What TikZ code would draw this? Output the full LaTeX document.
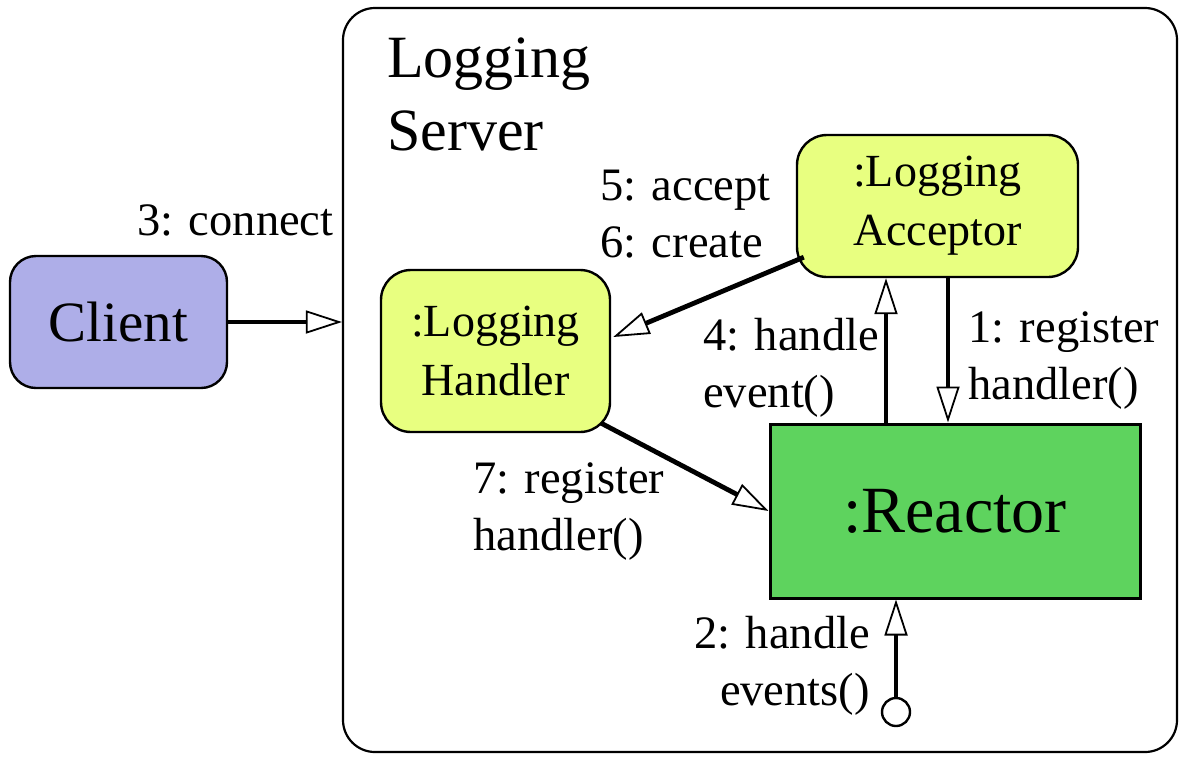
\documentclass[tikz,border=0pt]{standalone}
\usepackage{fontspec}
\setmainfont{Liberation Serif}
\usetikzlibrary{arrows.meta,calc}
\definecolor{clientfill}{HTML}{AEAEE8}
\definecolor{objfill}{HTML}{E8FF80}
\definecolor{reactorfill}{HTML}{5ED35E}
\tikzset{
  box/.style={draw=black, line width=2.4pt, inner sep=0pt, align=center,
    font=\fontsize{46}{59}\selectfont},
  msg/.style={line width=4.8pt,
    -{Triangle[length=36pt,width=23pt,fill=white,line width=1.8pt]}},
  lbl/.style={inner sep=0pt, font=\fontsize{46.5}{57}\selectfont},
}
\begin{document}
\begin{tikzpicture}[x=1pt,y=-1pt]
  \useasboundingbox (0,0) rectangle (1180,756);

  % enclosing server
  \node[draw=black, line width=2.2pt, rounded corners=32pt, minimum width=834pt,
        minimum height=744pt, inner sep=0pt] (server) at (760,380) {};
  % multi-line nodes sit on the baseline of their last line
  \node[lbl, font=\fontsize{60}{73}\selectfont, align=left, anchor=base west]
        (servertitle) at (387,150) {Logging\\Server};

  % participants
  \node[box, fill=clientfill, rounded corners=26pt, minimum width=217pt,
        minimum height=132pt, font=\fontsize{57}{66}\selectfont]
        (client) at (118.5,322) {Client};
  \node[box, fill=objfill, rounded corners=30pt, minimum width=229pt,
        minimum height=162pt] (handler) at (495.5,351) {:Logging\\Handler};
  \node[box, fill=objfill, rounded corners=30pt, minimum width=281pt,
        minimum height=142pt] (acceptor) at (937.5,206) {:Logging\\Acceptor};
  \node[box, fill=reactorfill, line width=3pt, minimum width=370pt,
        minimum height=174pt, font=\fontsize{66}{76}\selectfont]
        (reactor) at (955,511) {:Reactor};
  \node[draw=black, line width=2.4pt, fill=white, circle, minimum size=28pt,
        inner sep=0pt] (start) at (896,712) {};

  % helper columns for the vertical messages
  \coordinate (col4) at (886,0);
  \coordinate (col1) at (948,0);
  \coordinate (col2) at (896,0);

  % messages
  \draw[msg] (client.east) -- (client.east -| server.west);
  \draw[msg] ($(acceptor.south west)+(8,-21)$) -- ($(handler.east)+(2,-14)$);
  \draw[msg] (col4 |- reactor.north) -- (col4 |- acceptor.south);
  \draw[msg] (col1 |- acceptor.south) -- (col1 |- reactor.north);
  \draw[msg] ($(handler.south east)+(-10,-10)$) -- (reactor.west);
  \draw[msg] (start.north) -- (col2 |- reactor.south);

  % message labels
  \node[lbl, anchor=base west] (l3) at (137,235) {3: connect};
  \node[lbl, anchor=base west, align=left] (l56) at (600,257) {5: accept\\6: create};
  \node[lbl, anchor=base west, align=left] (l4) at (703,407) {4: handle\\event()};
  \node[lbl, anchor=base west, align=left] (l1) at (968,399) {1: register\\handler()};
  \node[lbl, anchor=base west, align=left] (l7) at (473,550) {7: register\\handler()};
  \node[lbl, anchor=base east, align=right] (l2) at (870,705) {2: handle\\events()};
\end{tikzpicture}
\end{document}
